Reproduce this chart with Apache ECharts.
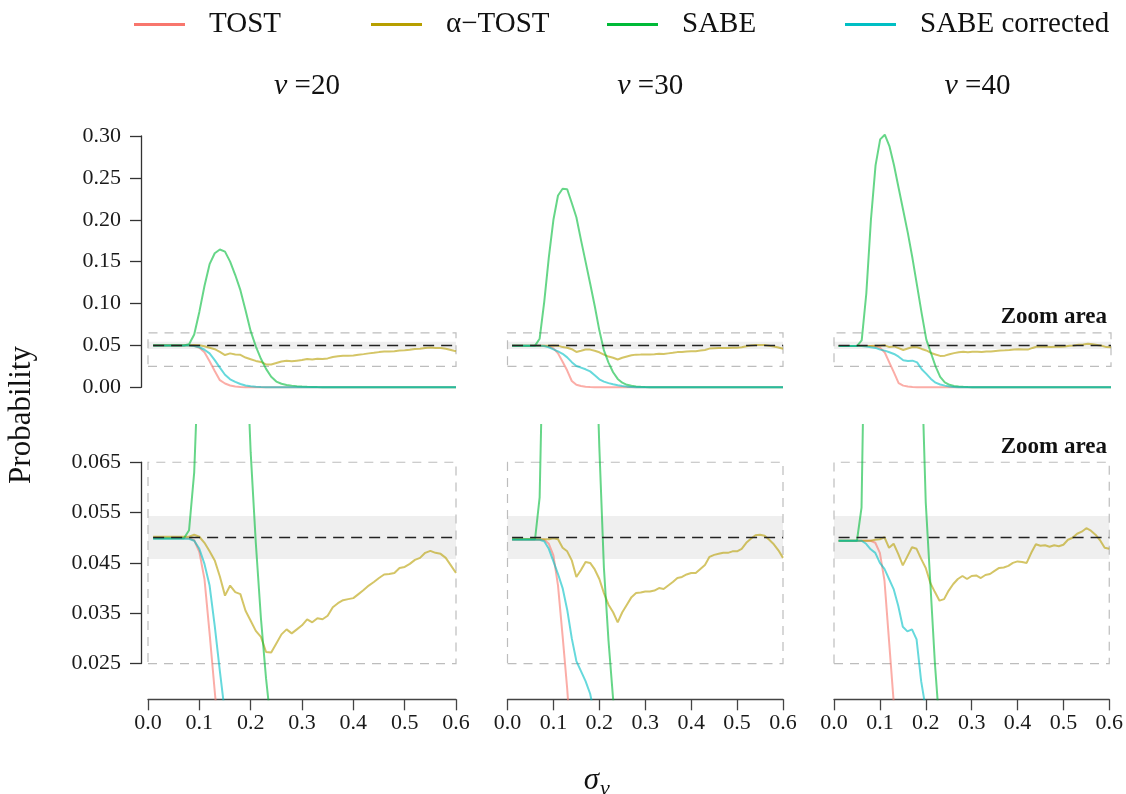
<!DOCTYPE html>
<html>
<head>
<meta charset="utf-8">
<script src="https://cdn.jsdelivr.net/npm/echarts@6/dist/echarts.min.js"></script>
<style>
  html, body { margin: 0; padding: 0; background: #fff; }
  #chart { width: 1126px; height: 794px; }
</style>
</head>
<body>
<div id="chart"></div>
<script>
// sigma_nu grid shared by every curve
const sigma = [0.01, 0.02, 0.03, 0.04, 0.05, 0.06, 0.07, 0.08, 0.09, 0.10,
  0.11, 0.12, 0.13, 0.14, 0.15, 0.16, 0.17, 0.18, 0.19, 0.20,
  0.21, 0.22, 0.23, 0.24, 0.25, 0.26, 0.27, 0.28, 0.29, 0.30,
  0.31, 0.32, 0.33, 0.34, 0.35, 0.36, 0.37, 0.38, 0.39, 0.40,
  0.41, 0.42, 0.43, 0.44, 0.45, 0.46, 0.47, 0.48, 0.49, 0.50,
  0.51, 0.52, 0.53, 0.54, 0.55, 0.56, 0.57, 0.58, 0.59, 0.60];

// nu = 20
const tost20 = [0.0499, 0.0499, 0.0499, 0.0499, 0.0499, 0.0499, 0.0499, 0.0499, 0.0495, 0.0472,
  0.0418, 0.0310, 0.0195, 0.0085, 0.0045, 0.0022, 0.0010, 0.0005, 0.0002, 0,
  0, 0, 0, 0, 0, 0, 0, 0, 0, 0, 0, 0, 0, 0, 0, 0, 0, 0, 0, 0,
  0, 0, 0, 0, 0, 0, 0, 0, 0, 0, 0, 0, 0, 0, 0, 0, 0, 0, 0, 0];
const aTost20 = [0.0502, 0.0502, 0.0502, 0.0502, 0.0502, 0.0502, 0.0502, 0.0502, 0.0506, 0.0502,
  0.0490, 0.0473, 0.0455, 0.0423, 0.0385, 0.0405, 0.0392, 0.0388, 0.0355, 0.0335,
  0.0315, 0.0303, 0.0273, 0.0272, 0.0290, 0.0308, 0.0318, 0.0310, 0.0318, 0.0326,
  0.0338, 0.0332, 0.0340, 0.0338, 0.0345, 0.0362, 0.0370, 0.0376, 0.0378, 0.0380,
  0.0388, 0.0396, 0.0405, 0.0412, 0.0420, 0.0427, 0.0428, 0.0430, 0.0440, 0.0442,
  0.0448, 0.0456, 0.0460, 0.0470, 0.0474, 0.0470, 0.0468, 0.0460, 0.0445, 0.0430];
const sabe20 = [0.0499, 0.0499, 0.0499, 0.0499, 0.0499, 0.0499, 0.0499, 0.0515, 0.063, 0.090,
  0.121, 0.147, 0.160, 0.1645, 0.162, 0.150, 0.134, 0.116, 0.092, 0.067,
  0.049, 0.034, 0.022, 0.0125, 0.0068, 0.0042, 0.0028, 0.0020, 0.0014, 0.0010,
  0.0007, 0.0005, 0.0003, 0.0002, 0.0001, 0, 0, 0, 0, 0,
  0, 0, 0, 0, 0, 0, 0, 0, 0, 0, 0, 0, 0, 0, 0, 0, 0, 0, 0, 0];
const cor20 = [0.0498, 0.0498, 0.0498, 0.0498, 0.0498, 0.0498, 0.0498, 0.0498, 0.0494, 0.0478,
  0.0448, 0.0405, 0.0325, 0.0235, 0.0150, 0.0095, 0.0065, 0.0040, 0.0022, 0.0012,
  0.0006, 0.0003, 0.0001, 0, 0, 0, 0, 0, 0, 0,
  0, 0, 0, 0, 0, 0, 0, 0, 0, 0, 0, 0, 0, 0, 0, 0, 0, 0, 0, 0,
  0, 0, 0, 0, 0, 0, 0, 0, 0, 0];

// nu = 30
const tost30 = [0.0496, 0.0496, 0.0496, 0.0496, 0.0496, 0.0496, 0.0496, 0.0496, 0.0488, 0.0465,
  0.0405, 0.0305, 0.0200, 0.0075, 0.0030, 0.0015, 0.0007, 0.0003, 0, 0,
  0, 0, 0, 0, 0, 0, 0, 0, 0, 0, 0, 0, 0, 0, 0, 0, 0, 0, 0, 0,
  0, 0, 0, 0, 0, 0, 0, 0, 0, 0, 0, 0, 0, 0, 0, 0, 0, 0, 0, 0];
const aTost30 = [0.0497, 0.0497, 0.0497, 0.0497, 0.0497, 0.0497, 0.0497, 0.0497, 0.0497, 0.0499,
  0.0497, 0.0480, 0.0473, 0.0455, 0.0422, 0.0436, 0.0452, 0.0450, 0.0437, 0.0418,
  0.0390, 0.0367, 0.0352, 0.0332, 0.0352, 0.0367, 0.0382, 0.0390, 0.0391, 0.0393,
  0.0393, 0.0395, 0.0400, 0.0398, 0.0405, 0.0412, 0.0420, 0.0422, 0.0427, 0.0430,
  0.0430, 0.0438, 0.0446, 0.0462, 0.0466, 0.0468, 0.0470, 0.0470, 0.0473, 0.0473,
  0.0478, 0.0490, 0.0498, 0.0505, 0.0506, 0.0504, 0.0496, 0.0487, 0.0475, 0.0460];
const sabe30 = [0.0497, 0.0497, 0.0497, 0.0497, 0.0497, 0.0497, 0.058, 0.102, 0.155, 0.200,
  0.229, 0.237, 0.2365, 0.220, 0.203, 0.176, 0.150, 0.124, 0.097, 0.068,
  0.044, 0.0295, 0.018, 0.0100, 0.0055, 0.0030, 0.0018, 0.0011, 0.0007, 0.0004,
  0.0002, 0.0001, 0, 0, 0, 0, 0, 0, 0, 0,
  0, 0, 0, 0, 0, 0, 0, 0, 0, 0, 0, 0, 0, 0, 0, 0, 0, 0, 0, 0];
const cor30 = [0.0496, 0.0496, 0.0496, 0.0496, 0.0496, 0.0496, 0.0496, 0.0493, 0.0478, 0.0453,
  0.0428, 0.0400, 0.0357, 0.0300, 0.0255, 0.0235, 0.0215, 0.0190, 0.0145, 0.0095,
  0.0068, 0.0050, 0.0036, 0.0024, 0.0015, 0.0008, 0.0004, 0.0002, 0, 0,
  0, 0, 0, 0, 0, 0, 0, 0, 0, 0, 0, 0, 0, 0, 0, 0, 0, 0, 0, 0,
  0, 0, 0, 0, 0, 0, 0, 0, 0, 0];

// nu = 40
const tost40 = [0.0494, 0.0494, 0.0494, 0.0494, 0.0494, 0.0494, 0.0494, 0.0494, 0.0490, 0.0470,
  0.0415, 0.0295, 0.0175, 0.0050, 0.0020, 0.0010, 0.0004, 0.0001, 0, 0,
  0, 0, 0, 0, 0, 0, 0, 0, 0, 0, 0, 0, 0, 0, 0, 0, 0, 0, 0, 0,
  0, 0, 0, 0, 0, 0, 0, 0, 0, 0, 0, 0, 0, 0, 0, 0, 0, 0, 0, 0];
const aTost40 = [0.0494, 0.0494, 0.0494, 0.0494, 0.0494, 0.0494, 0.0494, 0.0494, 0.0496, 0.0497,
  0.0501, 0.0480, 0.0488, 0.0468, 0.0445, 0.0463, 0.0481, 0.0478, 0.0458, 0.0440,
  0.0410, 0.0392, 0.0375, 0.0378, 0.0395, 0.0408, 0.0418, 0.0424, 0.0418, 0.0424,
  0.0425, 0.0420, 0.0426, 0.0428, 0.0434, 0.0440, 0.0441, 0.0444, 0.0450, 0.0453,
  0.0452, 0.0450, 0.0470, 0.0487, 0.0484, 0.0485, 0.0482, 0.0485, 0.0483, 0.0486,
  0.0496, 0.0500, 0.0508, 0.0512, 0.0519, 0.0514, 0.0506, 0.0495, 0.0480, 0.0478];
const sabe40 = [0.0494, 0.0494, 0.0494, 0.0494, 0.0494, 0.056, 0.112, 0.200, 0.265, 0.296,
  0.3015, 0.288, 0.265, 0.238, 0.211, 0.184, 0.154, 0.121, 0.088, 0.057,
  0.041, 0.025, 0.0125, 0.0060, 0.0030, 0.0016, 0.0010, 0.0006, 0.0003, 0.0001,
  0, 0, 0, 0, 0, 0, 0, 0, 0, 0,
  0, 0, 0, 0, 0, 0, 0, 0, 0, 0, 0, 0, 0, 0, 0, 0, 0, 0, 0, 0];
const cor40 = [0.0494, 0.0494, 0.0494, 0.0494, 0.0494, 0.0494, 0.0488, 0.0477, 0.0470, 0.0450,
  0.0438, 0.0418, 0.0398, 0.0365, 0.0323, 0.0314, 0.0318, 0.0298, 0.0215, 0.0160,
  0.0100, 0.0055, 0.0033, 0.0020, 0.0010, 0.0005, 0.0002, 0, 0, 0,
  0, 0, 0, 0, 0, 0, 0, 0, 0, 0, 0, 0, 0, 0, 0, 0, 0, 0, 0, 0,
  0, 0, 0, 0, 0, 0, 0, 0, 0, 0];

const nuLabels = ['20', '30', '40'];
const seriesNames = ['TOST', 'α−TOST', 'SABE', 'SABE corrected'];
const seriesColors = ['#F8766D', '#B79F00', '#00BA38', '#00BFC4'];
const panelData = [
  [tost20, aTost20, sabe20, cor20],
  [tost30, aTost30, sabe30, cor30],
  [tost40, aTost40, sabe40, cor40]
];

// reference levels
const alphaLevel = 0.05;
const alphaStart = 0.01;
const band = [0.0458, 0.0543];
const zoomBox = [0.025, 0.065];
const xTicks = [0, 0.6, 0.1];
const topYTicks = [0, 0.30, 0.05];
const bottomYTicks = [0.025, 0.065, 0.01];

// layout
const FONT = 'Liberation Serif';
const panelLeft = [148, 507.5, 834];
const panelWidth = [308, 275.5, 277];
const axisGap = 7;
const topRow = { top: 136, height: 251.3, min: 0, max: 0.30 };
const bottomRow = { top: 425, height: 274.3, min: 0.0179, max: 0.0724 };
const bottomPx = v => bottomRow.top + (bottomRow.max - v) / (bottomRow.max - bottomRow.min) * bottomRow.height;
const topPx = v => topRow.top + (topRow.max - v) / (topRow.max - topRow.min) * topRow.height;

const grid = [], xAxis = [], yAxis = [], series = [];

const axisLineStyle = { show: true, lineStyle: { color: '#333', width: 1.3 } };
const axisTickStyle = { show: true, length: 11, lineStyle: { color: '#333', width: 1.3 } };

[topRow, bottomRow].forEach((row, r) => {
  panelLeft.forEach((left, p) => {
    const gi = grid.length;
    grid.push({ left: left, top: row.top, width: panelWidth[p], height: row.height });
    xAxis.push({
      type: 'value', gridIndex: gi, min: xTicks[0], max: xTicks[1], interval: xTicks[2],
      show: r === 1,
      axisLine: { show: true, lineStyle: { color: '#444', width: 1.3 } },
      axisTick: { show: true, length: 11, lineStyle: { color: '#444', width: 1.3 } },
      axisLabel: { fontFamily: FONT, fontSize: 22, color: '#1a1a1a', margin: 13,
        formatter: v => v.toFixed(1) },
      splitLine: { show: false }
    });
    yAxis.push({ type: 'value', gridIndex: gi, min: row.min, max: row.max, show: false });

    // reference band, zoom box and alpha line
    series.push({
      type: 'line', xAxisIndex: gi, yAxisIndex: gi, data: [], silent: true, z: 1, clip: false,
      markArea: {
        silent: true,
        data: [
          [{ xAxis: xTicks[0], yAxis: band[0], itemStyle: { color: '#EFEFEF' } },
           { xAxis: xTicks[1], yAxis: band[1] }],
          [{ xAxis: xTicks[0], yAxis: zoomBox[0],
             itemStyle: { color: 'rgba(0,0,0,0)', borderColor: '#BDBDBD', borderWidth: 1.2, borderType: [9, 7] } },
           { xAxis: xTicks[1], yAxis: zoomBox[1] }]
        ]
      },
      markLine: {
        silent: true, symbol: 'none', label: { show: false },
        lineStyle: { color: '#222', type: [11, 7], width: 1.4 },
        data: [[{ coord: [alphaStart, alphaLevel] }, { coord: [xTicks[1], alphaLevel] }]]
      }
    });

    panelData[p].forEach((vals, k) => {
      series.push({
        name: seriesNames[k], type: 'line', xAxisIndex: gi, yAxisIndex: gi,
        data: sigma.map((s, i) => [s, vals[i]]),
        showSymbol: false, symbol: 'none', z: 2, clip: r === 1,
        color: seriesColors[k],
        lineStyle: { width: 2, color: seriesColors[k], opacity: 0.6 },
        emphasis: { disabled: true }
      });
    });
  });
});

// axis-only grids carrying the y axes, set a little left of the first panel
function addYAxisGrid(top, bottom, ticks, digits) {
  const gi = grid.length;
  grid.push({ left: panelLeft[0] - axisGap, width: panelWidth[0], top: top, height: bottom - top });
  xAxis.push({ type: 'value', gridIndex: gi, show: false, min: 0, max: 1 });
  yAxis.push({
    type: 'value', gridIndex: gi, min: ticks[0], max: ticks[1], interval: ticks[2],
    axisLine: axisLineStyle, axisTick: axisTickStyle,
    axisLabel: { fontFamily: FONT, fontSize: 22, color: '#1a1a1a', margin: 20,
      formatter: v => v.toFixed(digits) },
    splitLine: { show: false }
  });
}
addYAxisGrid(topPx(topYTicks[1]), topPx(topYTicks[0]), topYTicks, 2);
addYAxisGrid(bottomPx(bottomYTicks[1]), bottomPx(bottomYTicks[0]), bottomYTicks, 3);

const legendLeft = [129, 366, 602, 840];
const legend = seriesNames.map((n, k) => ({
  data: [n], left: legendLeft[k], top: 5, icon: 'rect', itemWidth: 51, itemHeight: 3,
  selectedMode: false,
  itemStyle: { opacity: 1, color: seriesColors[k] },
  lineStyle: { opacity: 1 },
  textStyle: { fontFamily: FONT, fontSize: 29, color: '#111', padding: [0, 0, 0, 19] }
}));

const title = nuLabels.map((nu, p) => ({
  text: '{nu|ν} =' + nu,
  left: panelLeft[p] + panelWidth[p] / 2, top: 66, textAlign: 'center',
  textStyle: { fontFamily: FONT, fontSize: 29, fontWeight: 'normal', color: '#111',
    rich: { nu: { fontFamily: FONT, fontSize: 30, fontStyle: 'italic', color: '#111' } } }
}));

const zoomRight = panelLeft[2] + panelWidth[2] - 4;
const graphic = [
  { type: 'text', x: 22, y: 415, rotation: Math.PI / 2,
    style: { text: 'Probability', fontFamily: FONT, fontSize: 31, fill: '#111',
      textAlign: 'center', textVerticalAlign: 'middle' } },
  { type: 'text', x: 599, y: 781,
    style: { text: 'σ', fontFamily: FONT, fontSize: 31, fontStyle: 'italic', fill: '#111',
      textAlign: 'right', textVerticalAlign: 'middle' } },
  { type: 'text', x: 600, y: 789,
    style: { text: 'ν', fontFamily: FONT, fontSize: 22, fontStyle: 'italic', fill: '#111',
      textAlign: 'left', textVerticalAlign: 'middle' } },
  { type: 'text', x: zoomRight, y: topPx(zoomBox[1]) - 16,
    style: { text: 'Zoom area', fontFamily: FONT, fontSize: 23, fontWeight: 'bold', fill: '#111',
      textAlign: 'right', textVerticalAlign: 'middle' } },
  { type: 'text', x: zoomRight, y: bottomPx(zoomBox[1]) - 15,
    style: { text: 'Zoom area', fontFamily: FONT, fontSize: 23, fontWeight: 'bold', fill: '#111',
      textAlign: 'right', textVerticalAlign: 'middle' } }
];

const chart = echarts.init(document.getElementById('chart'));
chart.setOption({
  animation: false,
  backgroundColor: '#fff',
  textStyle: { fontFamily: FONT },
  title: title,
  legend: legend,
  grid: grid,
  xAxis: xAxis,
  yAxis: yAxis,
  series: series,
  graphic: graphic
});
</script>
</body>
</html>
